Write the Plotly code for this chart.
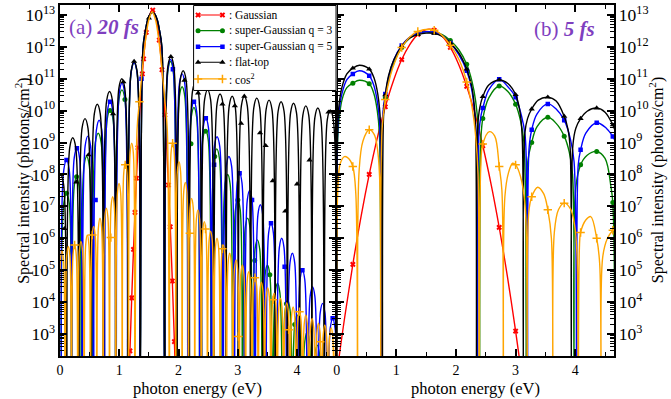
import numpy as np
import plotly.graph_objects as go

# ---------------- DATA (log10 of spectral intensity, photons/cm^2) ----------------
# panel (a) 20 fs
a_red_E = [1.14, 1.18, 1.21, 1.24, 1.265, 1.29, 1.315, 1.35, 1.39, 1.41, 1.455, 1.50, 1.565, 1.62,
           1.675, 1.72, 1.77, 1.80, 1.83, 1.86, 1.895, 1.93, 1.97]
a_red_L = [0.04, 2.47, 4.13, 5.65, 6.81, 7.88, 8.84, 10.03, 11.15, 11.62, 12.45, 12.96, 13.15, 12.91,
           12.21, 11.28, 9.87, 8.84, 7.67, 6.36, 4.66, 2.76, 0.36]
a_red_mk_E = [1.18, 1.21, 1.24, 1.265, 1.29, 1.315, 1.39, 1.41, 1.455, 1.565, 1.675, 1.72, 1.77, 1.83, 1.86, 1.895, 1.93]
a_red_mk_L = [2.47, 4.13, 5.65, 6.81, 7.88, 8.84, 11.15, 11.62, 12.45, 13.15, 12.21, 11.28, 9.87, 7.67, 6.36, 4.66, 2.76]

a_black_E = [-0.05, 0.01, 0.06, 0.111, 0.165, 0.215, 0.265, 0.318, 0.372, 0.422, 0.472, 0.525,
             0.579, 0.629, 0.679, 0.732, 0.786, 0.836, 0.886, 0.939, 0.993, 1.043, 1.093, 1.146,
             1.20, 1.25, 1.30, 1.353, 1.40, 1.44, 1.48, 1.52, 1.56, 1.60, 1.64, 1.68, 1.72, 1.767,
             1.82, 1.87, 1.92, 1.974, 2.028, 2.078, 2.128, 2.181, 2.235, 2.285, 2.335, 2.388,
             2.44, 2.49, 2.54, 2.595, 2.65, 2.70, 2.75, 2.802, 2.855, 2.905, 2.955, 3.009,
             3.06, 3.11, 3.16, 3.216, 3.27, 3.32, 3.37, 3.423, 3.477, 3.527, 3.577, 3.63,
             3.68, 3.73, 3.78, 3.837, 3.89, 3.94, 3.99, 4.044, 4.097, 4.147, 4.197, 4.251,
             4.30, 4.35, 4.40, 4.458, 4.51, 4.56, 4.61, 4.665]
a_black_L = [7.7, 8.0, 7.7, 1, 8.85, 9.15, 8.85, 1, 9.45, 9.75, 9.45, 1,
             9.9, 10.2, 9.9, 1, 10.3, 10.6, 10.3, 1, 10.7, 11.0, 10.7, 1,
             11.24, 11.54, 11.24, 1, 11.95, 12.5, 12.85, 13.02, 13.08, 13.02, 12.85, 12.5, 11.95, 1,
             11.39, 11.69, 11.39, 1, 10.95, 11.25, 10.95, 1, 10.6, 10.9, 10.6, 1,
             10.35, 10.65, 10.35, 1, 10.22, 10.52, 10.22, 1, 10.15, 10.45, 10.15, 1,
             10.15, 10.45, 10.15, 1, 10.09, 10.39, 10.09, 1, 10.03, 10.33, 10.03, 1,
             9.98, 10.28, 9.98, 1, 9.93, 10.23, 9.93, 1, 9.85, 10.15, 9.85, 1,
             9.78, 10.08, 9.78, 1, 9.72, 10.02, 9.72, 1]
a_black_mk_E = [0.075, 0.275, 0.48, 0.895, 1.07, 1.25, 1.50, 1.87, 2.10, 2.33, 2.74, 2.95, 3.055, 3.11,
                3.375, 3.47, 3.59, 3.80, 4.00, 4.21, 4.53]
a_black_mk_L = [6.3, 7.76, 8.61, 9.9, 10.9, 11.54, 12.9, 11.69, 10.95, 10.55, 10.2, 10.15, 9.6, 10.45,
                9.3, 8.9, 7.8, 6.85, 7.7, 8.45, 9.95]

a_blue_E = [0.025, 0.065, 0.11, 0.155, 0.195, 0.24, 0.285, 0.33, 0.375, 0.425, 0.47, 0.515,
            0.565, 0.615, 0.66, 0.705, 0.75, 0.80, 0.845, 0.89, 0.945, 1.0, 1.045, 1.09,
            1.145, 1.20, 1.25, 1.30, 1.35, 1.40, 1.44, 1.48, 1.52, 1.56, 1.60, 1.64, 1.68, 1.72,
            1.765, 1.82, 1.865, 1.91, 1.96, 2.015, 2.06, 2.105, 2.16, 2.215, 2.26, 2.305,
            2.36, 2.415, 2.46, 2.505, 2.555, 2.605, 2.65, 2.695, 2.75, 2.805, 2.85, 2.895,
            2.94, 2.99, 3.03, 3.07, 3.115, 3.16, 3.20, 3.24, 3.29, 3.34, 3.38, 3.42,
            3.47, 3.52, 3.56, 3.60, 3.65, 3.70, 3.74, 3.78, 3.83, 3.88, 3.92, 3.96,
            4.005, 4.05, 4.09, 4.13, 4.175, 4.22, 4.26, 4.30, 4.345, 4.39, 4.43, 4.47,
            4.515, 4.56, 4.60, 4.64, 4.685]
a_blue_L = [1, 8.15, 8.45, 8.15, 1, 8.52, 8.82, 8.52, 1, 8.9, 9.2, 8.9,
            1, 9.4, 9.7, 9.4, 1, 9.98, 10.28, 9.98, 1, 10.56, 10.86, 10.56,
            1, 11.2, 11.5, 11.2, 1, 11.95, 12.5, 12.85, 13.02, 13.08, 13.02, 12.85, 12.5, 11.95,
            1, 11.3, 11.6, 11.3, 1, 10.85, 11.15, 10.85, 1, 9.98, 10.28, 9.98,
            1, 9.46, 9.76, 9.46, 1, 8.88, 9.18, 8.88, 1, 8.26, 8.56, 8.26,
            1, 7.74, 8.04, 7.74, 1, 7.2, 7.5, 7.2, 1, 6.75, 7.05, 6.75,
            1, 6.17, 6.47, 6.17, 1, 5.7, 6.0, 5.7, 1, 5.23, 5.53, 5.23,
            1, 4.7, 5.0, 4.7, 1, 4.18, 4.48, 4.18, 1, 3.66, 3.96, 3.66,
            1, 3.19, 3.49, 3.19, 1]
a_blue_mk_E = [0.11, 0.285, 0.60, 0.845, 1.375, 1.905, 2.26, 2.46, 2.60, 3.03, 3.24, 3.56, 3.79, 4.09, 4.60]
a_blue_mk_L = [8.45, 8.82, 7.2, 10.28, 11.0, 11.3, 10.28, 9.76, 8.3, 8.04, 7.2, 6.47, 5.11, 5.0, 3.49]

a_green_E = [0.025, 0.065, 0.11, 0.155, 0.195, 0.24, 0.28, 0.32, 0.36, 0.405, 0.45, 0.495,
             0.545, 0.595, 0.645, 0.695, 0.745, 0.795, 0.845, 0.895, 0.945, 0.995, 1.045, 1.095,
             1.145, 1.20, 1.25, 1.30, 1.35, 1.40, 1.44, 1.48, 1.52, 1.56, 1.60, 1.64, 1.68, 1.72,
             1.765, 1.82, 1.865, 1.91, 1.96, 2.015, 2.06, 2.105, 2.16, 2.215, 2.26, 2.305,
             2.36, 2.41, 2.455, 2.50, 2.55, 2.60, 2.645, 2.69, 2.74, 2.785, 2.83, 2.87,
             2.915, 2.96, 3.0, 3.04, 3.08, 3.125, 3.165, 3.205, 3.245, 3.29, 3.33, 3.37,
             3.415, 3.46, 3.5, 3.54, 3.585, 3.63, 3.67, 3.71, 3.755, 3.80, 3.84, 3.88,
             3.92, 3.96, 4.0, 4.04, 4.085, 4.13, 4.17, 4.21, 4.255, 4.30, 4.34, 4.38,
             4.425, 4.47, 4.51, 4.55, 4.595]
a_green_L = [1, 7.11, 7.41, 7.11, 1, 7.63, 7.93, 7.63, 1, 8.26, 8.56, 8.26,
             1, 8.99, 9.29, 8.99, 1, 9.72, 10.02, 9.72, 1, 10.35, 10.65, 10.35,
             1, 11.2, 11.5, 11.2, 1, 11.95, 12.5, 12.85, 13.02, 13.08, 13.02, 12.85, 12.5, 11.95,
             1, 11.24, 11.54, 11.24, 1, 10.45, 10.75, 10.45, 1, 9.8, 10.1, 9.8,
             1, 9.1, 9.4, 9.1, 1, 8.5, 8.8, 8.5, 1, 7.7, 8.0, 7.7,
             1, 6.9, 7.2, 6.9, 1, 6.33, 6.63, 6.33, 1, 5.65, 5.95, 5.65,
             1, 4.86, 5.16, 4.86, 1, 4.29, 4.59, 4.29, 1, 3.77, 4.07, 3.77,
             1, 3.3, 3.6, 3.3, 1, 2.77, 3.07, 2.77, 1, 2.35, 2.65, 2.35,
             1, 1.95, 2.25, 1.95, 1]
a_green_mk_E = [0.11, 0.28, 0.845, 1.095, 2.21, 2.455, 2.61, 3.0, 3.285, 3.54, 3.82, 3.96]
a_green_mk_L = [7.41, 7.93, 10.0, 10.35, 8.96, 9.35, 8.56, 7.2, 5.3, 4.86, 3.95, 3.3]

a_orange_E = [-0.101, -0.074, -0.047, -0.0205,
              0.006, 0.033, 0.06, 0.0865,
              0.113, 0.14, 0.167, 0.1935,
              0.22, 0.247, 0.274, 0.3005,
              0.327, 0.354, 0.381, 0.4075,
              0.434, 0.461, 0.488, 0.5145,
              0.541, 0.568, 0.595, 0.6215,
              0.648, 0.675, 0.702, 0.7285,
              0.755, 0.782, 0.809, 0.8355,
              0.862, 0.889, 0.916, 0.9425,
              0.969, 0.996, 1.023, 1.0495,
              1.076, 1.103, 1.13, 1.1565,
              1.183, 1.21, 1.237, 1.2635,
              1.30, 1.34, 1.40, 1.45, 1.50, 1.555, 1.61, 1.66, 1.71, 1.77, 1.81, 1.845,
              1.873, 1.90, 1.927, 1.953,
              1.98, 2.007, 2.034, 2.06,
              2.087, 2.114, 2.141, 2.167,
              2.194, 2.221, 2.248, 2.274,
              2.301, 2.328, 2.355, 2.381,
              2.408, 2.435, 2.462, 2.488,
              2.515, 2.542, 2.569, 2.595,
              2.622, 2.649, 2.676, 2.702,
              2.729, 2.756, 2.783, 2.809,
              2.836, 2.863, 2.89, 2.916,
              2.943, 2.97, 2.997, 3.023,
              3.05, 3.077, 3.104, 3.13,
              3.157, 3.184, 3.211, 3.237,
              3.264, 3.291, 3.318, 3.344,
              3.371, 3.398, 3.425, 3.451,
              3.478, 3.505, 3.532, 3.558,
              3.585, 3.612, 3.639, 3.665,
              3.692, 3.719, 3.746, 3.772,
              3.799, 3.826, 3.853, 3.879,
              3.906, 3.933, 3.96, 3.986,
              4.013, 4.04, 4.067, 4.093,
              4.12, 4.147, 4.174, 4.2,
              4.227, 4.254, 4.281, 4.307,
              4.334, 4.361, 4.388, 4.414,
              4.441, 4.468, 4.495, 4.521,
              4.548, 4.575, 4.602, 4.628,
              4.655, 4.682]
a_orange_L = [5.2, 5.5, 5.2, 1,
              5.3, 5.6, 5.3, 1,
              5.44, 5.74, 5.44, 1,
              5.49, 5.79, 5.49, 1,
              5.6, 5.9, 5.6, 1,
              5.8, 6.1, 5.8, 1,
              6.07, 6.37, 6.07, 1,
              6.33, 6.63, 6.33, 1,
              6.64, 6.94, 6.64, 1,
              7.0, 7.3, 7.0, 1,
              7.42, 7.72, 7.42, 1,
              8.06, 8.36, 8.06, 1,
              8.68, 8.98, 8.68, 1,
              9.4, 10.28, 11.5, 12.3, 12.85, 13.1, 12.85, 12.3, 11.5, 10.3, 9.4, 1,
              8.68, 8.98, 8.68, 1,
              8.1, 8.4, 8.1, 1,
              7.45, 7.75, 7.45, 1,
              6.95, 7.25, 6.95, 1,
              6.59, 6.89, 6.59, 1,
              6.22, 6.52, 6.22, 1,
              5.92, 6.22, 5.92, 1,
              5.7, 6.0, 5.7, 1,
              5.49, 5.79, 5.49, 1,
              5.23, 5.53, 5.23, 1,
              5.02, 5.32, 5.02, 1,
              4.86, 5.16, 4.86, 1,
              4.65, 4.95, 4.65, 1,
              4.5, 4.8, 4.5, 1,
              4.32, 4.62, 4.32, 1,
              4.15, 4.45, 4.15, 1,
              3.98, 4.28, 3.98, 1,
              3.82, 4.12, 3.82, 1,
              3.68, 3.98, 3.68, 1,
              3.55, 3.85, 3.55, 1,
              3.42, 3.72, 3.42, 1,
              3.3, 3.6, 3.3, 1,
              3.19, 3.49, 3.19, 1,
              3.04, 3.34, 3.04, 1,
              2.98, 3.28, 2.98, 1,
              2.9, 3.2, 2.9, 1,
              2.85, 3.15]
a_orange_mk_E = [0.247, 0.545, 0.858, 1.10, 1.34, 1.90, 2.19, 2.455, 2.74, 3.01, 3.29, 3.595, 3.858, 4.04, 4.392]
a_orange_mk_L = [5.79, 6.1, 6.02, 8.3, 10.28, 8.98, 6.16, 6.29, 5.67, 2.92, 4.76, 4.07, 3.13, 3.7, 2.76]

# panel (b) 5 fs
b_red_E = [0.0, 0.135, 0.27, 0.41, 0.545, 0.68, 0.815, 0.95, 1.09, 1.225, 1.36, 1.5, 1.635, 1.77,
           1.905, 2.04, 2.18, 2.315, 2.45, 2.59, 2.725, 2.86, 3.0, 3.1]
b_red_L = [1.74, 3.54, 5.18, 6.7, 8.0, 9.14, 10.12, 10.93, 11.6, 12.07, 12.39, 12.54, 12.52, 12.33,
           11.98, 11.47, 10.76, 9.92, 8.9, 7.68, 6.34, 4.83, 3.09, 1.74]
b_red_mk_E = [0.27, 0.545, 0.815, 1.09, 1.36, 1.635, 1.905, 2.18, 2.45, 2.725, 3.0]
b_red_mk_L = [5.18, 8.0, 10.12, 11.6, 12.39, 12.52, 11.98, 10.76, 8.9, 6.34, 3.09]

b_black_E = [0.0, 0.015, 0.04, 0.09, 0.17, 0.27, 0.38, 0.545, 0.63, 0.69, 0.735, 0.765,
             0.785, 0.815, 0.87, 0.96, 1.09, 1.22, 1.36, 1.5, 1.635, 1.77, 1.905, 2.05, 2.18,
             2.26, 2.305, 2.33, 2.345, 2.365, 2.40, 2.45, 2.55, 2.725, 2.87, 3.0, 3.07, 3.11,
             3.13, 3.155, 3.2, 3.27, 3.38, 3.54, 3.68, 3.815, 3.88, 3.915, 3.935, 3.96, 4.01,
             4.09, 4.2, 4.36, 4.5, 4.63, 4.68]
b_black_L = [1, 9.5, 10.2, 10.75, 11.15, 11.33, 11.42, 11.3, 11.0, 10.5, 9.6, 1,
             9.8, 10.49, 11.1, 11.6, 12.02, 12.27, 12.38, 12.43, 12.42, 12.33, 12.12, 11.8, 11.3,
             10.8, 10.2, 9.4, 1, 9.5, 10.1, 10.44, 10.8, 10.96, 10.85, 10.5, 10.0, 9.2,
             1, 9.3, 9.75, 10.05, 10.33, 10.42, 10.3, 9.82, 9.4, 8.8, 1, 8.9, 9.45,
             9.75, 9.98, 10.08, 9.95, 9.55, 9.3]
b_black_mk_E = [0.27, 0.545, 0.815, 1.09, 1.36, 1.635, 1.905, 2.18, 2.45, 2.725, 3.0, 3.27, 3.54, 3.815, 4.09, 4.36, 4.63]
b_black_mk_L = [11.33, 11.3, 10.49, 12.02, 12.38, 12.42, 12.12, 11.3, 10.44, 10.96, 10.5, 10.05, 10.42, 9.82, 9.75, 10.08, 9.55]

b_blue_E = [0.0, 0.015, 0.04, 0.09, 0.17, 0.27, 0.38, 0.545, 0.62, 0.68, 0.72, 0.745,
            0.77, 0.815, 0.87, 0.96, 1.09, 1.22, 1.36, 1.5, 1.635, 1.77, 1.905, 2.05, 2.18,
            2.26, 2.31, 2.345, 2.36, 2.385, 2.42, 2.45, 2.55, 2.725, 2.87, 3.0, 3.09, 3.16,
            3.2, 3.225, 3.27, 3.36, 3.54, 3.68, 3.815, 3.92, 3.98, 4.025, 4.05, 4.09, 4.18,
            4.36, 4.52, 4.63, 4.68]
b_blue_L = [1, 9.3, 10.0, 10.55, 10.97, 11.15, 11.25, 11.09, 10.8, 10.3, 9.6, 1,
            9.8, 10.52, 11.05, 11.6, 12.04, 12.3, 12.42, 12.47, 12.45, 12.35, 12.12, 11.75, 11.25,
            10.7, 10.0, 9.0, 1, 9.3, 9.85, 10.08, 10.65, 10.98, 10.75, 10.42, 9.9, 9.2,
            1, 8.8, 9.4, 9.9, 10.21, 10.05, 9.7, 9.1, 8.4, 1, 8.3, 8.77, 9.3,
            9.62, 9.45, 9.19, 9.0]
b_blue_mk_E = [0.27, 0.545, 0.815, 1.09, 1.36, 1.635, 1.905, 2.18, 2.45, 2.725, 3.0, 3.27, 3.54, 3.815, 4.09, 4.36, 4.63]
b_blue_mk_L = [11.15, 11.09, 10.52, 12.04, 12.42, 12.45, 12.12, 11.25, 10.08, 10.98, 10.42, 9.4, 10.21, 9.7, 8.77, 9.62, 9.19]

b_green_E = [0.0, 0.015, 0.04, 0.09, 0.17, 0.27, 0.38, 0.545, 0.62, 0.68, 0.715, 0.74,
             0.765, 0.815, 0.87, 0.96, 1.09, 1.22, 1.36, 1.5, 1.635, 1.77, 1.905, 2.05, 2.18,
             2.27, 2.33, 2.37, 2.395, 2.42, 2.45, 2.55, 2.725, 2.87, 3.0, 3.08, 3.14,
             3.18, 3.205, 3.27, 3.36, 3.54, 3.68, 3.815, 3.9, 3.955, 3.98, 4.01, 4.09, 4.2,
             4.36, 4.5, 4.6, 4.63, 4.67]
b_green_L = [1, 9.0, 9.75, 10.35, 10.72, 10.86, 10.95, 10.84, 10.55, 10.0, 9.3, 1,
             9.6, 10.4, 10.95, 11.5, 11.98, 12.27, 12.42, 12.47, 12.45, 12.38, 12.2, 11.9, 11.45,
             10.9, 10.3, 9.5, 1, 9.2, 9.75, 10.4, 10.77, 10.6, 10.2, 9.7, 9.0,
             1, 8.4, 9.0, 9.5, 9.79, 9.6, 9.2, 8.7, 8.0, 1, 7.6, 8.3, 8.6,
             8.72, 8.5, 7.6, 7.12, 1]
b_green_mk_E = [0.27, 0.545, 0.815, 1.09, 1.36, 1.635, 1.905, 2.18, 2.45, 2.725, 3.0, 3.27, 3.54, 3.815, 4.09, 4.36, 4.63]
b_green_mk_L = [10.86, 10.84, 10.4, 11.98, 12.42, 12.45, 12.2, 11.45, 9.75, 10.77, 10.2, 9.0, 9.79, 9.2, 8.3, 8.72, 7.12]

b_orange_E = [0.0, 0.02, 0.06, 0.13, 0.2, 0.27, 0.32, 0.35, 0.375, 0.44, 0.545, 0.63, 0.69, 0.725,
              0.74, 0.76, 0.815, 0.9, 0.98, 1.09, 1.22, 1.36, 1.55, 1.635, 1.77, 1.905, 2.05, 2.18,
              2.27, 2.33, 2.37, 2.39, 2.415, 2.45, 2.56, 2.65, 2.725, 2.77, 2.795, 2.82, 2.88,
              2.95, 3.0, 3.08, 3.16, 3.195, 3.22, 3.27, 3.37, 3.47, 3.54, 3.6, 3.625, 3.65,
              3.72, 3.815, 3.92, 3.99, 4.03, 4.05, 4.07, 4.09, 4.18, 4.26, 4.36, 4.41, 4.435,
              4.46, 4.54, 4.63, 4.68]
b_orange_L = [1, 7.6, 8.35, 8.56, 8.5, 8.25, 7.4, 1, 8.1, 9.05, 9.4, 9.25, 8.7, 7.6,
              1, 9.4, 10.35, 11.1, 11.55, 11.98, 12.3, 12.48, 12.55, 12.52, 12.35, 12.05, 11.6, 10.9,
              10.1, 9.2, 8.0, 1, 8.2, 8.95, 9.34, 9.2, 8.25, 7.5, 1, 7.3, 8.05,
              8.35, 8.3, 7.95, 7.0, 1, 6.8, 7.3, 7.6, 7.4, 6.89, 6.0, 1, 6.2,
              6.9, 7.1, 6.92, 6.4, 5.5, 1, 5.7, 6.18, 6.58, 6.68, 6.0, 5.2, 1,
              5.4, 6.0, 6.25, 6.35]
b_orange_mk_E = [0.27, 0.545, 0.815, 1.09, 1.36, 1.635, 1.905, 2.18, 2.45, 2.725, 3.0, 3.27, 3.54, 3.815, 4.09, 4.36, 4.63]
b_orange_mk_L = [8.25, 9.4, 10.35, 11.98, 12.48, 12.52, 12.05, 10.9, 8.95, 8.25, 8.3, 7.3, 6.89, 7.1, 6.18, 6.0, 6.25]

series_names = [": Gaussian", ": super-Gaussian q = 3", ": super-Gaussian q = 5", ": flat-top", ": cos<sup>2</sup>"]
x_tick_vals = [0, 1, 2, 3, 4]
x_title = "photon energy (eV)"
y_title = "Spectral intensity (photons/cm<sup>2</sup>)"
panel_titles = ["(a) <b><i>20 fs</i></b>", "(b) <b><i>5 fs</i></b>"]

# ---------------- STYLE ----------------
FONT = "Liberation Serif, Times New Roman, DejaVu Serif, serif"
PURPLE = "#7F3FBF"
KEYS = ["red", "green", "blue", "black", "orange"]
styles = {
    "red": dict(color="#ff0000", symbol="x", size=5, lw=0),
    "green": dict(color="#008000", symbol="circle", size=5, lw=0),
    "blue": dict(color="#0000ff", symbol="square", size=4.5, lw=0),
    "black": dict(color="#000000", symbol="triangle-up", size=5.5, lw=0),
    "orange": dict(color="#ffa500", symbol="cross-thin", size=6, lw=1.5),
}
LINE_W = 1.4

fig = go.Figure()


def mk(st):
    return dict(color=st["color"], symbol=st["symbol"], size=st["size"],
                line=dict(color=st["color"], width=st["lw"]))


def add_series(E, L, mE, mL, key, xa, ya):
    st = styles[key]
    fig.add_trace(go.Scatter(
        x=E, y=np.power(10.0, np.array(L, dtype=float)), mode="lines",
        line=dict(color=st["color"], width=LINE_W, shape="spline", smoothing=1.0),
        xaxis=xa, yaxis=ya, showlegend=False, hoverinfo="skip"))
    fig.add_trace(go.Scatter(
        x=mE, y=np.power(10.0, np.array(mL, dtype=float)), mode="markers",
        marker=mk(st), xaxis=xa, yaxis=ya, showlegend=False, hoverinfo="skip"))


panel_a = [
    (a_red_E, a_red_L, a_red_mk_E, a_red_mk_L),
    (a_green_E, a_green_L, a_green_mk_E, a_green_mk_L),
    (a_blue_E, a_blue_L, a_blue_mk_E, a_blue_mk_L),
    (a_black_E, a_black_L, a_black_mk_E, a_black_mk_L),
    (a_orange_E, a_orange_L, a_orange_mk_E, a_orange_mk_L),
]
panel_b = [
    (b_red_E, b_red_L, b_red_mk_E, b_red_mk_L),
    (b_green_E, b_green_L, b_green_mk_E, b_green_mk_L),
    (b_blue_E, b_blue_L, b_blue_mk_E, b_blue_mk_L),
    (b_black_E, b_black_L, b_black_mk_E, b_black_mk_L),
    (b_orange_E, b_orange_L, b_orange_mk_E, b_orange_mk_L),
]
for (E, L, mE, mL), k in zip(panel_a, KEYS):
    add_series(E, L, mE, mL, k, "x", "y")
for (E, L, mE, mL), k in zip(panel_b, KEYS):
    add_series(E, L, mE, mL, k, "x2", "y2")

# ---- legend drawn in its own small overlay subplot (opaque box) ----
fig.add_trace(go.Scatter(x=[0.004, 0.996, 0.996, 0.004, 0.004], y=[0.006, 0.006, 0.994, 0.994, 0.006],
                         mode="lines", fill="toself", fillcolor="white",
                         line=dict(color="black", width=1), xaxis="x3", yaxis="y3",
                         showlegend=False, hoverinfo="skip"))
leg_rows = [0.884, 0.701, 0.515, 0.334, 0.14]
for name, key, yr in zip(series_names, KEYS, leg_rows):
    st = styles[key]
    fig.add_trace(go.Scatter(x=[0.035, 0.205], y=[yr, yr], mode="lines+markers",
                             line=dict(color=st["color"], width=1.2), marker=mk(st),
                             xaxis="x3", yaxis="y3", showlegend=False, hoverinfo="skip"))

annotations = []
for name, yr in zip(series_names, leg_rows):
    annotations.append(dict(text=name, xref="x3", yref="y3", x=0.235, y=yr, xanchor="left",
                            yanchor="middle", showarrow=False,
                            font=dict(family=FONT, size=11.5, color="black")))

# panel titles
annotations.append(dict(text=panel_titles[0], xref="paper", yref="paper", x=0.0125, y=0.937,
                        xanchor="left", yanchor="middle", showarrow=False,
                        font=dict(family=FONT, size=21, color=PURPLE)))
annotations.append(dict(text=panel_titles[1], xref="paper", yref="paper", x=0.970, y=0.932,
                        xanchor="right", yanchor="middle", showarrow=False,
                        font=dict(family=FONT, size=21, color=PURPLE)))
# axis titles
for xc in [0.2487, 0.7497]:
    annotations.append(dict(text=x_title, xref="paper", yref="paper", x=xc, y=-0.094,
                            xanchor="center", yanchor="middle", showarrow=False,
                            font=dict(family=FONT, size=16.5, color="black")))
annotations.append(dict(text=y_title, xref="paper", yref="paper", x=-0.068, y=0.5,
                        xanchor="center", yanchor="middle", textangle=-90, showarrow=False,
                        font=dict(family=FONT, size=16, color="black")))
annotations.append(dict(text=y_title, xref="paper", yref="paper", x=1.077, y=0.5,
                        xanchor="center", yanchor="middle", textangle=-90, showarrow=False,
                        font=dict(family=FONT, size=16, color="black")))

xcommon = dict(range=[0, 4.65], tickvals=x_tick_vals, ticks="inside", ticklen=7, tickwidth=1.5,
               tickcolor="black", showline=True, linecolor="black", linewidth=2, mirror="ticks",
               showgrid=False, zeroline=False, automargin=False,
               minor=dict(dtick=0.5, tick0=0, ticks="inside", ticklen=4, tickwidth=1, tickcolor="black"),
               tickfont=dict(family=FONT, size=14, color="black"))
ycommon = dict(type="log", range=[2.31, 13.31], dtick=1, exponentformat="power", showexponent="all",
               ticks="inside", ticklen=7, tickwidth=1.5, tickcolor="black", showline=True,
               linecolor="black", linewidth=2, mirror="ticks", showgrid=False, zeroline=False,
               automargin=False,
               minor=dict(dtick="D1", ticks="inside", ticklen=4, tickwidth=1, tickcolor="black"),
               tickfont=dict(family=FONT, size=14, color="black"))
hidden = dict(range=[0, 1], visible=False, showgrid=False, zeroline=False, fixedrange=True)

fig.update_layout(
    width=671, height=399,
    margin=dict(l=60, r=57, t=5, b=43, autoexpand=False),
    paper_bgcolor="white", plot_bgcolor="white",
    font=dict(family=FONT, color="black"),
    showlegend=False,
    xaxis=dict(domain=[0, 0.4975], anchor="y", **xcommon),
    xaxis2=dict(domain=[0.4995, 1], anchor="y2", **xcommon),
    yaxis=dict(anchor="x", side="left", **ycommon),
    yaxis2=dict(anchor="x2", side="right", **ycommon),
    xaxis3=dict(domain=[0.2401, 0.4993], anchor="y3", **hidden),
    yaxis3=dict(domain=[0.755, 1.0], anchor="x3", **hidden),
    annotations=annotations,
)

fig.write_html("out.html", config={"displayModeBar": False},
               post_script="document.body.style.margin='0';document.body.style.padding='0';")
